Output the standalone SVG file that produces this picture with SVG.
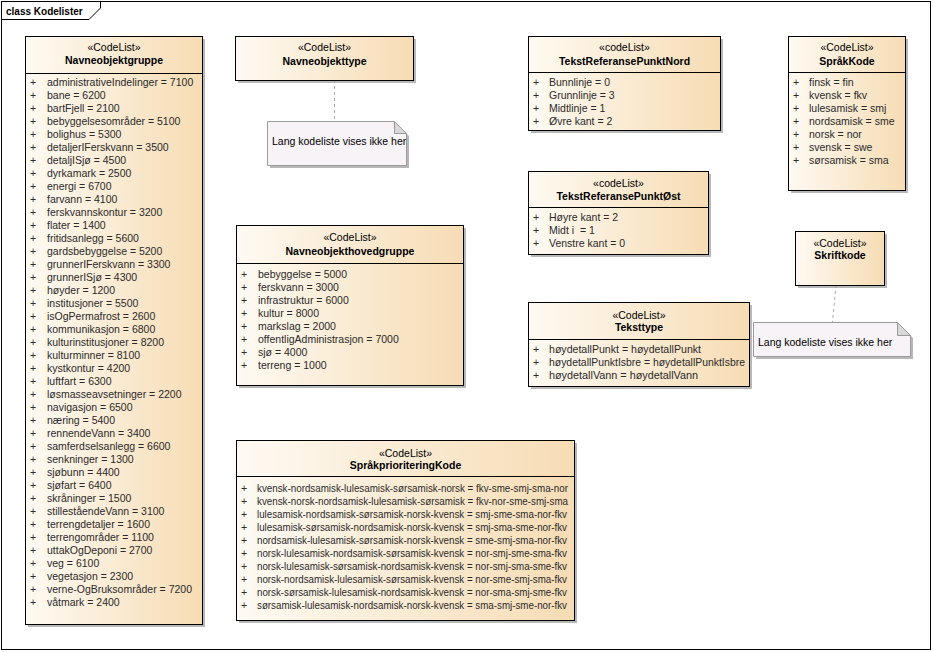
<svg xmlns="http://www.w3.org/2000/svg" width="933" height="652" viewBox="0 0 933 652">
<defs>
<linearGradient id="g" x1="0" y1="0" x2="1" y2="0">
<stop offset="0" stop-color="#FEFAF3"/>
<stop offset="1" stop-color="#F6DCB4"/>
</linearGradient>
<style>
text{font-family:"Liberation Sans",Arial,sans-serif;font-size:10.5px;fill:#000}
.st{text-anchor:middle}
.nm{text-anchor:middle;font-weight:bold}
.it text{fill:#2a2a2a}
.box{fill:url(#g);stroke:#000;stroke-width:1}
.sh{fill:#9a9a9a;opacity:0.7}
.dv{stroke:#000;stroke-width:1}
.note{fill:#F7F3F7;stroke:#9a9a9a;stroke-width:1}
.fold{fill:#D8D8D8;stroke:#9a9a9a;stroke-width:1}
.con{stroke:#aaa;stroke-width:1;stroke-dasharray:3,3;fill:none}
</style>
</defs>
<rect x="0" y="0" width="933" height="652" fill="#fff"/>
<g id="frame">
<rect x="1.5" y="1.5" width="929" height="648" fill="none" stroke="#000"/>
<path d="M1.5,19.5 H89 L100.5,8 V1.5" fill="none" stroke="#000"/>
<text x="6" y="15" font-weight="bold" style="font-size:10px">class Kodelister</text>
</g>

<g id="connectors">
<line class="con" x1="334.5" y1="80" x2="334.5" y2="121"/>
<line class="con" x1="836" y1="285" x2="832.5" y2="322"/>
</g>

<g id="Navneobjektgruppe">
<rect class="sh" x="28" y="39" width="177" height="588"/>
<rect class="box" x="25.5" y="36.5" width="177" height="588"/>
<line class="dv" x1="25.5" y1="73.5" x2="202.5" y2="73.5"/>
<text class="st" x="114" y="51">«CodeList»</text>
<text class="nm" x="114" y="64">Navneobjektgruppe</text>
<g class="it">
<text x="30" y="86">+</text><text x="47" y="86">administrativeIndelinger = 7100</text>
<text x="30" y="99">+</text><text x="47" y="99">bane = 6200</text>
<text x="30" y="112">+</text><text x="47" y="112">bartFjell = 2100</text>
<text x="30" y="125">+</text><text x="47" y="125">bebyggelsesområder = 5100</text>
<text x="30" y="138">+</text><text x="47" y="138">bolighus = 5300</text>
<text x="30" y="151">+</text><text x="47" y="151">detaljerIFerskvann = 3500</text>
<text x="30" y="164">+</text><text x="47" y="164">detaljISjø = 4500</text>
<text x="30" y="177">+</text><text x="47" y="177">dyrkamark = 2500</text>
<text x="30" y="190">+</text><text x="47" y="190">energi = 6700</text>
<text x="30" y="203">+</text><text x="47" y="203">farvann = 4100</text>
<text x="30" y="216">+</text><text x="47" y="216">ferskvannskontur = 3200</text>
<text x="30" y="229">+</text><text x="47" y="229">flater = 1400</text>
<text x="30" y="242">+</text><text x="47" y="242">fritidsanlegg = 5600</text>
<text x="30" y="255">+</text><text x="47" y="255">gardsbebyggelse = 5200</text>
<text x="30" y="268">+</text><text x="47" y="268">grunnerIFerskvann = 3300</text>
<text x="30" y="281">+</text><text x="47" y="281">grunnerISjø = 4300</text>
<text x="30" y="294">+</text><text x="47" y="294">høyder = 1200</text>
<text x="30" y="307">+</text><text x="47" y="307">institusjoner = 5500</text>
<text x="30" y="320">+</text><text x="47" y="320">isOgPermafrost = 2600</text>
<text x="30" y="333">+</text><text x="47" y="333">kommunikasjon = 6800</text>
<text x="30" y="346">+</text><text x="47" y="346">kulturinstitusjoner = 8200</text>
<text x="30" y="359">+</text><text x="47" y="359">kulturminner = 8100</text>
<text x="30" y="372">+</text><text x="47" y="372">kystkontur = 4200</text>
<text x="30" y="385">+</text><text x="47" y="385">luftfart = 6300</text>
<text x="30" y="398">+</text><text x="47" y="398">løsmasseavsetninger = 2200</text>
<text x="30" y="411">+</text><text x="47" y="411">navigasjon = 6500</text>
<text x="30" y="424">+</text><text x="47" y="424">næring = 5400</text>
<text x="30" y="437">+</text><text x="47" y="437">rennendeVann = 3400</text>
<text x="30" y="450">+</text><text x="47" y="450">samferdselsanlegg = 6600</text>
<text x="30" y="463">+</text><text x="47" y="463">senkninger = 1300</text>
<text x="30" y="476">+</text><text x="47" y="476">sjøbunn = 4400</text>
<text x="30" y="489">+</text><text x="47" y="489">sjøfart = 6400</text>
<text x="30" y="502">+</text><text x="47" y="502">skråninger = 1500</text>
<text x="30" y="515">+</text><text x="47" y="515">stilleståendeVann = 3100</text>
<text x="30" y="528">+</text><text x="47" y="528">terrengdetaljer = 1600</text>
<text x="30" y="541">+</text><text x="47" y="541">terrengområder = 1100</text>
<text x="30" y="554">+</text><text x="47" y="554">uttakOgDeponi = 2700</text>
<text x="30" y="567">+</text><text x="47" y="567">veg = 6100</text>
<text x="30" y="580">+</text><text x="47" y="580">vegetasjon = 2300</text>
<text x="30" y="593">+</text><text x="47" y="593">verne-OgBruksområder = 7200</text>
<text x="30" y="606">+</text><text x="47" y="606">våtmark = 2400</text>
</g>
</g>

<g id="Navneobjekttype">
<rect class="sh" x="238" y="39" width="178" height="44"/>
<rect class="box" x="235.5" y="36.5" width="178" height="44"/>
<text class="st" x="324.5" y="51">«CodeList»</text>
<text class="nm" x="324.5" y="65">Navneobjekttype</text>
</g>

<g id="note1">
<path class="sh" d="M270,124 H397 L409,136 V168 H270 Z"/>
<path class="note" d="M267.5,121.5 H394.5 L406.5,133.5 V165.5 H267.5 Z"/>
<path class="fold" d="M394.5,121.5 V133.5 H406.5 Z"/>
<text x="272" y="145">Lang kodeliste vises ikke her</text>
</g>

<g id="TekstReferansePunktNord">
<rect class="sh" x="531" y="39" width="192" height="94"/>
<rect class="box" x="528.5" y="36.5" width="192" height="94"/>
<line class="dv" x1="528.5" y1="72.5" x2="720.5" y2="72.5"/>
<text class="st" x="624.5" y="51">«codeList»</text>
<text class="nm" x="624.5" y="65">TekstReferansePunktNord</text>
<g class="it">
<text x="533" y="86">+</text><text x="549" y="86">Bunnlinje = 0</text>
<text x="533" y="99">+</text><text x="549" y="99">Grunnlinje = 3</text>
<text x="533" y="112">+</text><text x="549" y="112">Midtlinje = 1</text>
<text x="533" y="125">+</text><text x="549" y="125">Øvre kant = 2</text>
</g>
</g>

<g id="SpraakKode">
<rect class="sh" x="791" y="39" width="117" height="154"/>
<rect class="box" x="788.5" y="36.5" width="117" height="154"/>
<line class="dv" x1="788.5" y1="72.5" x2="905.5" y2="72.5"/>
<text class="st" x="847" y="51">«CodeList»</text>
<text class="nm" x="847" y="65">SpråkKode</text>
<g class="it">
<text x="793" y="86">+</text><text x="809" y="86">finsk = fin</text>
<text x="793" y="99">+</text><text x="809" y="99">kvensk = fkv</text>
<text x="793" y="112">+</text><text x="809" y="112">lulesamisk = smj</text>
<text x="793" y="125">+</text><text x="809" y="125">nordsamisk = sme</text>
<text x="793" y="138">+</text><text x="809" y="138">norsk = nor</text>
<text x="793" y="151">+</text><text x="809" y="151">svensk = swe</text>
<text x="793" y="164">+</text><text x="809" y="164">sørsamisk = sma</text>
</g>
</g>

<g id="TekstReferansePunktOest">
<rect class="sh" x="531" y="174" width="180" height="83"/>
<rect class="box" x="528.5" y="171.5" width="180" height="83"/>
<line class="dv" x1="528.5" y1="207.5" x2="708.5" y2="207.5"/>
<text class="st" x="618.5" y="187">«codeList»</text>
<text class="nm" x="618.5" y="200">TekstReferansePunktØst</text>
<g class="it">
<text x="533" y="221">+</text><text x="549" y="221">Høyre kant = 2</text>
<text x="533" y="234">+</text><text x="549" y="234" xml:space="preserve">Midt i  = 1</text>
<text x="533" y="247">+</text><text x="549" y="247">Venstre kant = 0</text>
</g>
</g>

<g id="Navneobjekthovedgruppe">
<rect class="sh" x="239" y="228" width="227" height="160"/>
<rect class="box" x="236.5" y="225.5" width="227" height="160"/>
<line class="dv" x1="236.5" y1="263.5" x2="463.5" y2="263.5"/>
<text class="st" x="350" y="241">«CodeList»</text>
<text class="nm" x="350" y="255">Navneobjekthovedgruppe</text>
<g class="it">
<text x="241" y="278">+</text><text x="258" y="278">bebyggelse = 5000</text>
<text x="241" y="291">+</text><text x="258" y="291">ferskvann = 3000</text>
<text x="241" y="304">+</text><text x="258" y="304">infrastruktur = 6000</text>
<text x="241" y="317">+</text><text x="258" y="317">kultur = 8000</text>
<text x="241" y="330">+</text><text x="258" y="330">markslag = 2000</text>
<text x="241" y="343">+</text><text x="258" y="343">offentligAdministrasjon = 7000</text>
<text x="241" y="356">+</text><text x="258" y="356">sjø = 4000</text>
<text x="241" y="369">+</text><text x="258" y="369">terreng = 1000</text>
</g>
</g>

<g id="Skriftkode">
<rect class="sh" x="798" y="234" width="89" height="54"/>
<rect class="box" x="795.5" y="231.5" width="89" height="54"/>
<text class="st" x="840" y="247">«CodeList»</text>
<text class="nm" x="840" y="259">Skriftkode</text>
</g>

<g id="note2">
<path class="sh" d="M756,325 H900 L913,338 V359 H756 Z"/>
<path class="note" d="M753.5,322.5 H897.5 L910.5,335.5 V356.5 H753.5 Z"/>
<path class="fold" d="M897.5,322.5 V335.5 H910.5 Z"/>
<text x="758" y="346">Lang kodeliste vises ikke her</text>
</g>

<g id="Teksttype">
<rect class="sh" x="531" y="305" width="221" height="84"/>
<rect class="box" x="528.5" y="302.5" width="221" height="84"/>
<line class="dv" x1="528.5" y1="339.5" x2="749.5" y2="339.5"/>
<text class="st" x="639" y="319">«CodeList»</text>
<text class="nm" x="639" y="331">Teksttype</text>
<g class="it">
<text x="533" y="353">+</text><text x="549" y="353" textLength="152" lengthAdjust="spacingAndGlyphs">høydetallPunkt = høydetallPunkt</text>
<text x="533" y="366">+</text><text x="549" y="366" textLength="196" lengthAdjust="spacingAndGlyphs">høydetallPunktIsbre = høydetallPunktIsbre</text>
<text x="533" y="379">+</text><text x="549" y="379" textLength="149" lengthAdjust="spacingAndGlyphs">høydetallVann = høydetallVann</text>
</g>
</g>

<g id="SpraakprioriteringKode">
<rect class="sh" x="239" y="443" width="338" height="180"/>
<rect class="box" x="236.5" y="440.5" width="338" height="180"/>
<line class="dv" x1="236.5" y1="476.5" x2="574.5" y2="476.5"/>
<text class="st" x="405.5" y="457">«CodeList»</text>
<text class="nm" x="405.5" y="469">SpråkprioriteringKode</text>
<g class="it">
<text x="241" y="492">+</text><text x="257" y="492" textLength="311" lengthAdjust="spacingAndGlyphs">kvensk-nordsamisk-lulesamisk-sørsamisk-norsk = fkv-sme-smj-sma-nor</text>
<text x="241" y="505">+</text><text x="257" y="505" textLength="311" lengthAdjust="spacingAndGlyphs">kvensk-norsk-nordsamisk-lulesamisk-sørsamisk = fkv-nor-sme-smj-sma</text>
<text x="241" y="518">+</text><text x="257" y="518" textLength="310" lengthAdjust="spacingAndGlyphs">lulesamisk-nordsamisk-sørsamisk-norsk-kvensk = smj-sme-sma-nor-fkv</text>
<text x="241" y="531">+</text><text x="257" y="531" textLength="310" lengthAdjust="spacingAndGlyphs">lulesamisk-sørsamisk-nordsamisk-norsk-kvensk = smj-sma-sme-nor-fkv</text>
<text x="241" y="544">+</text><text x="257" y="544" textLength="310" lengthAdjust="spacingAndGlyphs">nordsamisk-lulesamisk-sørsamisk-norsk-kvensk = sme-smj-sma-nor-fkv</text>
<text x="241" y="557">+</text><text x="257" y="557" textLength="310" lengthAdjust="spacingAndGlyphs">norsk-lulesamisk-nordsamisk-sørsamisk-kvensk = nor-smj-sme-sma-fkv</text>
<text x="241" y="570">+</text><text x="257" y="570" textLength="310" lengthAdjust="spacingAndGlyphs">norsk-lulesamisk-sørsamisk-nordsamisk-kvensk = nor-smj-sma-sme-fkv</text>
<text x="241" y="583">+</text><text x="257" y="583" textLength="310" lengthAdjust="spacingAndGlyphs">norsk-nordsamisk-lulesamisk-sørsamisk-kvensk = nor-sme-smj-sma-fkv</text>
<text x="241" y="596">+</text><text x="257" y="596" textLength="310" lengthAdjust="spacingAndGlyphs">norsk-sørsamisk-lulesamisk-nordsamisk-kvensk = nor-sma-smj-sme-fkv</text>
<text x="241" y="609">+</text><text x="257" y="609" textLength="310" lengthAdjust="spacingAndGlyphs">sørsamisk-lulesamisk-nordsamisk-norsk-kvensk = sma-smj-sme-nor-fkv</text>
</g>
</g>
</svg>
